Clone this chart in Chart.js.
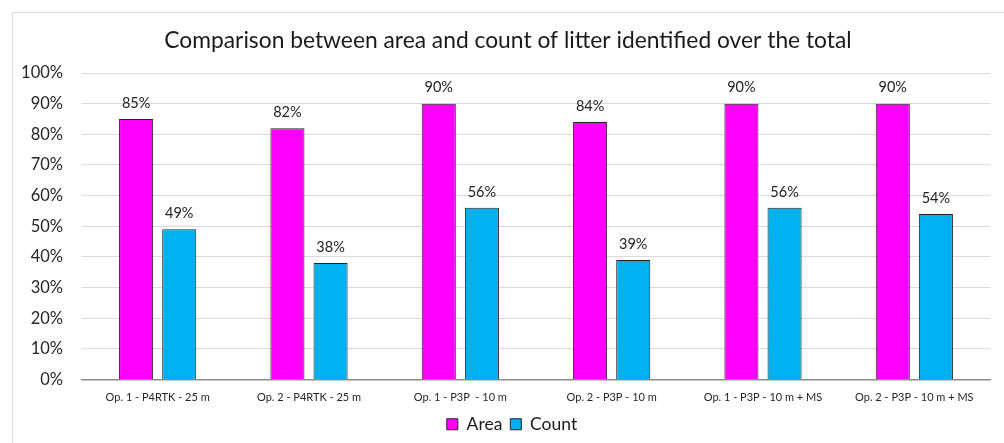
<!DOCTYPE html>
<html>
<head>
<meta charset="utf-8">
<script src="https://cdn.jsdelivr.net/npm/chart.js@4"></script>
<style>
  html, body { margin: 0; padding: 0; background: #ffffff; }
  #wrap { position: relative; width: 1004px; height: 443px; }
  canvas { display: block; }
</style>
</head>
<body>
<div id="wrap"><canvas id="chart" width="1004" height="443"></canvas></div>
<script>
const categories = [
  'Op. 1 - P4RTK - 25 m',
  'Op. 2 - P4RTK - 25 m',
  'Op. 1 - P3P  - 10 m',
  'Op. 2 - P3P - 10 m',
  'Op. 1 - P3P - 10 m + MS',
  'Op. 2 - P3P - 10 m + MS'
];
const areaValues = [85, 82, 90, 84, 90, 90];
const countValues = [49, 38, 56, 39, 56, 54];
const titleText = 'Comparison between area and count of litter identified over the total';

const FONT = 'Lato, "Open Sans", sans-serif';

// Frame line drawn around the chart, open on the right and bottom
const framePlugin = {
  id: 'frame',
  beforeDraw(chart) {
    const ctx = chart.ctx;
    ctx.save();
    ctx.strokeStyle = '#d9d9d9';
    ctx.lineWidth = 1;
    ctx.beginPath();
    ctx.moveTo(12.5, chart.height + 2);
    ctx.lineTo(12.5, 12.5);
    ctx.lineTo(chart.width + 2, 12.5);
    ctx.stroke();
    ctx.restore();
  }
};

// Chart title, drawn in the space reserved by the top layout padding
const titlePlugin = {
  id: 'customTitle',
  afterDraw(chart) {
    const ctx = chart.ctx;
    ctx.save();
    ctx.font = '22.8px ' + FONT;
    ctx.fillStyle = '#1a1a1a';
    ctx.textAlign = 'center';
    ctx.textBaseline = 'middle';
    ctx.fillText(titleText, 508, 41);
    ctx.restore();
  }
};

// Percentage labels above every bar
const valueLabelPlugin = {
  id: 'valueLabels',
  afterDatasetsDraw(chart) {
    const ctx = chart.ctx;
    ctx.save();
    ctx.font = '14.5px ' + FONT;
    ctx.fillStyle = '#222222';
    ctx.textAlign = 'center';
    ctx.textBaseline = 'middle';
    chart.data.datasets.forEach((ds, i) => {
      const meta = chart.getDatasetMeta(i);
      meta.data.forEach((bar, j) => {
        ctx.fillText(ds.data[j] + '%', bar.x, bar.y - 16);
      });
    });
    ctx.restore();
  }
};

new Chart(document.getElementById('chart'), {
  type: 'bar',
  data: {
    labels: categories,
    datasets: [
      {
        label: 'Area',
        data: areaValues,
        backgroundColor: '#ff00ff',
        borderColor: '#222222',
        borderWidth: 1,
        categoryPercentage: 0.57,
        barPercentage: 0.79
      },
      {
        label: 'Count',
        data: countValues,
        backgroundColor: '#00b0f0',
        borderColor: '#222222',
        borderWidth: 1,
        categoryPercentage: 0.57,
        barPercentage: 0.79
      }
    ]
  },
  options: {
    responsive: false,
    animation: false,
    layout: { padding: { left: 20, right: 0, top: 73, bottom: 0 } },
    scales: {
      x: {
        grid: { display: false, drawTicks: false },
        border: { display: true, color: '#8c8c8c', width: 1.5 },
        ticks: {
          color: '#262626',
          font: { family: FONT, size: 11 },
          padding: 11,
          maxRotation: 0,
          autoSkip: false
        },
        afterFit(scale) { scale.height = 28; }
      },
      y: {
        min: 0,
        max: 100,
        grid: { color: '#d9d9d9', lineWidth: 1, drawTicks: false },
        border: { display: false },
        ticks: {
          stepSize: 10,
          color: '#262626',
          padding: 19,
          font: { family: FONT, size: 16.5 },
          callback: v => v + '%'
        },
        afterFit(scale) { scale.width = 62; }
      },
      // empty right-hand axis that only keeps a margin beside the plot
      yMargin: {
        position: 'right',
        display: true,
        grid: { display: false, drawTicks: false },
        border: { display: false },
        ticks: { display: false },
        afterFit(scale) { scale.width = 14; }
      }
    },
    plugins: {
      title: { display: false },
      legend: {
        position: 'bottom',
        labels: {
          color: '#1a1a1a',
          font: { family: FONT, size: 17.5 },
          boxWidth: 11,
          boxHeight: 11,
          padding: 8
        }
      },
      tooltip: { enabled: false }
    }
  },
  plugins: [framePlugin, titlePlugin, valueLabelPlugin]
});
</script>
</body>
</html>
